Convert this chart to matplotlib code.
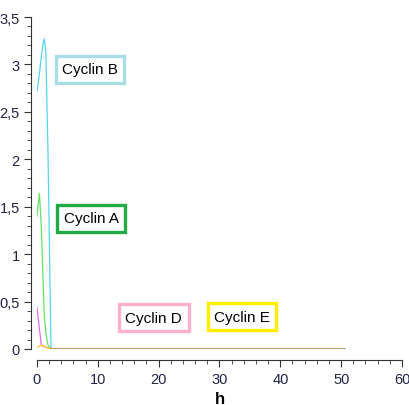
import matplotlib
matplotlib.use("Agg")
import matplotlib.pyplot as plt
from matplotlib.ticker import MultipleLocator, FuncFormatter

plt.rcParams['font.family'] = ['Liberation Sans', 'DejaVu Sans']

time = [0, 0.4, 0.7, 1.0, 1.2, 1.45, 1.8, 2.3, 50]
cyclin_b = [2.72, 2.9, 3.08, 3.22, 3.27, 3.14, 2.1, 0, 0]
cyclin_a = [1.40, 1.64, 1.30, 0.72, 0.35, 0.17, 0.04, 0, 0]
cyclin_d = [0.44, 0.21, 0.05, 0.03, 0.025, 0.02, 0.01, 0, 0]
cyclin_e = [0.02, 0.03, 0.04, 0.035, 0.03, 0.02, 0.01, 0, 0]
baseline_t = [2.3, 50.5]
baseline_v = [0, 0]

labels = ["Cyclin B", "Cyclin A", "Cyclin D", "Cyclin E"]
label_pos = [(8.7, 2.95), (8.9, 1.38), (19.2, 0.33), (33.7, 0.34)]

fig = plt.figure(figsize=(4.1, 4.06), dpi=100)
ax = fig.add_axes([37/410, 56/406, 365/410, 332/406])

line_cols = ["#55d4f0", "#66e066", "#ee66ee", "#ffcc22"]
box_cols = ["#a8dde8", "#22aa44", "#ffb0cc", "#ffee00"]
series = [cyclin_b, cyclin_a, cyclin_d, cyclin_e]
for s, c in zip(series, line_cols):
    ax.plot(time, s, color=c, lw=0.9)
ax.plot(baseline_t, baseline_v, color="#bb9566", lw=2.0)

for lab, (x, y), bc in zip(labels, label_pos, box_cols):
    ax.text(x, y, lab, ha='center', va='center', fontsize=11, color='black',
            bbox=dict(boxstyle='square,pad=0.42', fc='white', ec=bc, lw=2.4))

ax.set_xlim(0, 60)
ax.set_ylim(0, 3.5)
for sp in ['top', 'right']:
    ax.spines[sp].set_visible(False)
ax.spines['bottom'].set_position(('outward', 8))
ax.spines['left'].set_position(('outward', 4))
ax.spines['bottom'].set_color('#333333')
ax.spines['left'].set_color('#333333')
ax.xaxis.set_major_locator(MultipleLocator(10))
ax.xaxis.set_minor_locator(MultipleLocator(2))
ax.yaxis.set_major_locator(MultipleLocator(0.5))
ax.yaxis.set_minor_locator(MultipleLocator(0.1))
fmt = FuncFormatter(lambda v, p: (f"{v:g}").replace('.', ','))
ax.yaxis.set_major_formatter(fmt)
ax.tick_params(which='major', length=5, labelsize=10.5, color='#333333', labelcolor='#222244')
ax.tick_params(which='minor', length=3, color='#333333')
ax.set_xlabel("h", fontsize=12, fontweight='bold', labelpad=4)

fig.savefig("out.png", dpi=100)
